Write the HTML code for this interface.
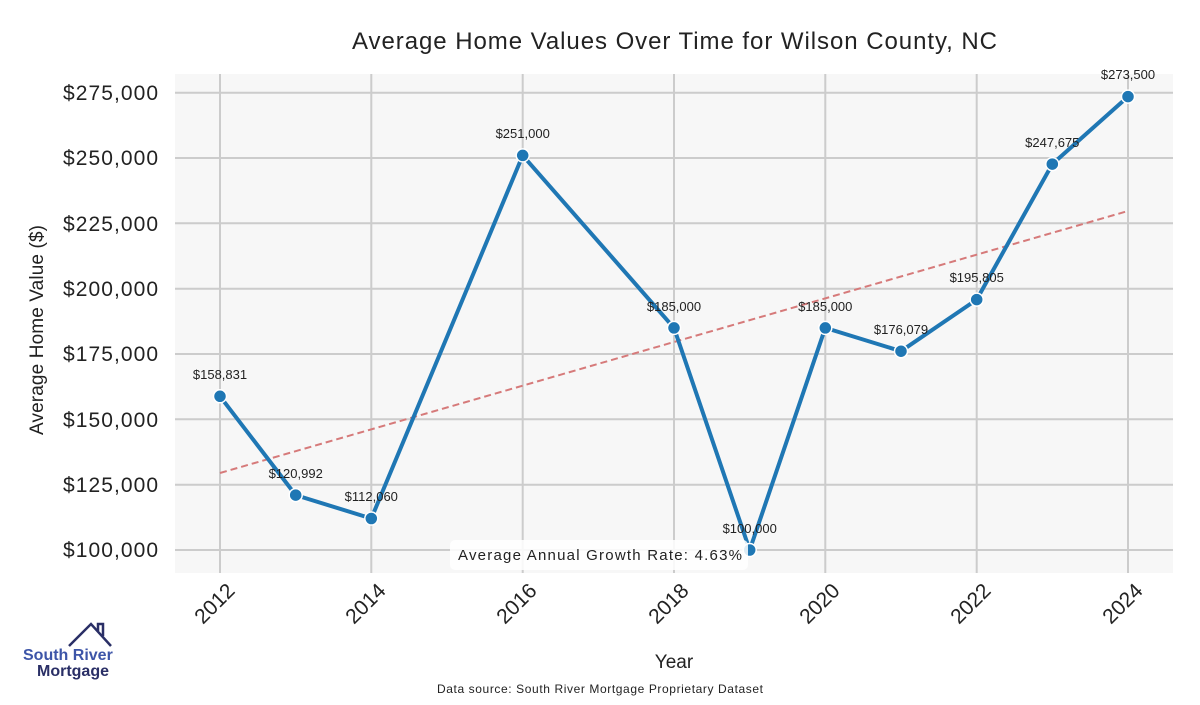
<!DOCTYPE html>
<html><head><meta charset="utf-8"><style>
body{margin:0;background:#fff;width:1200px;height:700px;overflow:hidden;font-family:"Liberation Sans",sans-serif}
</style></head><body>
<svg width="1200" height="700" viewBox="0 0 1200 700" xmlns="http://www.w3.org/2000/svg" font-family="Liberation Sans, sans-serif">
<rect x="175" y="74" width="998" height="499" fill="#f7f7f7"/>
<g stroke="#cccccc" stroke-width="2">
<line x1="220" y1="74" x2="220" y2="573"/><line x1="371.3" y1="74" x2="371.3" y2="573"/><line x1="522.7" y1="74" x2="522.7" y2="573"/><line x1="674" y1="74" x2="674" y2="573"/><line x1="825.3" y1="74" x2="825.3" y2="573"/><line x1="976.7" y1="74" x2="976.7" y2="573"/><line x1="1128" y1="74" x2="1128" y2="573"/>
<line x1="175" y1="92.7" x2="1173" y2="92.7"/><line x1="175" y1="158" x2="1173" y2="158"/><line x1="175" y1="223.3" x2="1173" y2="223.3"/><line x1="175" y1="288.7" x2="1173" y2="288.7"/><line x1="175" y1="354" x2="1173" y2="354"/><line x1="175" y1="419.3" x2="1173" y2="419.3"/><line x1="175" y1="484.7" x2="1173" y2="484.7"/><line x1="175" y1="550" x2="1173" y2="550"/>
</g>
<g font-size="21" fill="#222" text-anchor="end">
<text x="158" y="100" textLength="95">$275,000</text><text x="158" y="165" textLength="95">$250,000</text><text x="158" y="231" textLength="95">$225,000</text><text x="158" y="296" textLength="95">$200,000</text><text x="158" y="361" textLength="95">$175,000</text><text x="158" y="427" textLength="95">$150,000</text><text x="158" y="492" textLength="95">$125,000</text><text x="158" y="557" textLength="95">$100,000</text>
</g>
<g font-size="21" fill="#222" text-anchor="end">
<text transform="translate(236,592) rotate(-45)">2012</text><text transform="translate(387,592) rotate(-45)">2014</text><text transform="translate(538,592) rotate(-45)">2016</text><text transform="translate(690,592) rotate(-45)">2018</text><text transform="translate(841,592) rotate(-45)">2020</text><text transform="translate(992,592) rotate(-45)">2022</text><text transform="translate(1144,592) rotate(-45)">2024</text>
</g>
<text x="352" y="49" font-size="24" fill="#222" textLength="645">Average Home Values Over Time for Wilson County, NC</text>
<text x="674" y="668" font-size="19" fill="#222" text-anchor="middle">Year</text>
<text transform="translate(43,330) rotate(-90)" font-size="19" fill="#222" text-anchor="middle" textLength="210">Average Home Value ($)</text>
<text x="437" y="693" font-size="12" fill="#222" textLength="326">Data source: South River Mortgage Proprietary Dataset</text>
<line x1="220" y1="473" x2="1128" y2="211" stroke="#d67a7a" stroke-width="2" stroke-dasharray="7,4"/>
<polyline fill="none" stroke="#1f77b4" stroke-width="4" stroke-linejoin="round" points="220,396.3 295.7,495.1 371.3,518.5 522.7,155.4 674,327.9 749.7,550 825.3,327.9 901,351.2 976.7,299.6 1052.3,164.1 1128,96.6"/>
<g fill="#1f77b4" stroke="#fff" stroke-width="1.5">
<circle cx="220" cy="396.3" r="6.5"/><circle cx="295.7" cy="495.1" r="6.5"/><circle cx="371.3" cy="518.5" r="6.5"/><circle cx="522.7" cy="155.4" r="6.5"/><circle cx="674" cy="327.9" r="6.5"/><circle cx="749.7" cy="550" r="6.5"/><circle cx="825.3" cy="327.9" r="6.5"/><circle cx="901" cy="351.2" r="6.5"/><circle cx="976.7" cy="299.6" r="6.5"/><circle cx="1052.3" cy="164.1" r="6.5"/><circle cx="1128" cy="96.6" r="6.5"/>
</g>
<rect x="450" y="540" width="298" height="30" rx="5" fill="#fff" opacity="0.85"/>
<text x="458" y="560" font-size="15" fill="#222" textLength="284">Average Annual Growth Rate: 4.63%</text>
<g font-size="13" fill="#222" text-anchor="middle">
<text x="220" y="379">$158,831</text><text x="295.7" y="478">$120,992</text><text x="371.3" y="501">$112,060</text><text x="522.7" y="138">$251,000</text><text x="674" y="311">$185,000</text><text x="749.7" y="533">$100,000</text><text x="825.3" y="311">$185,000</text><text x="901" y="334">$176,079</text><text x="976.7" y="282">$195,805</text><text x="1052.3" y="147">$247,675</text><text x="1128" y="79">$273,500</text>
</g>
<polyline points="69,646 91,624 111,646" fill="none" stroke="#2a2f66" stroke-width="2.5"/>
<polyline points="98,631 98,624 103,624 103,636" fill="none" stroke="#2a2f66" stroke-width="2.5"/>
<text x="23" y="660" font-size="16" font-weight="bold" fill="#3d55a8">South River</text>
<text x="37" y="676" font-size="16" font-weight="bold" fill="#2a2f66">Mortgage</text>
</svg>
</body></html>
